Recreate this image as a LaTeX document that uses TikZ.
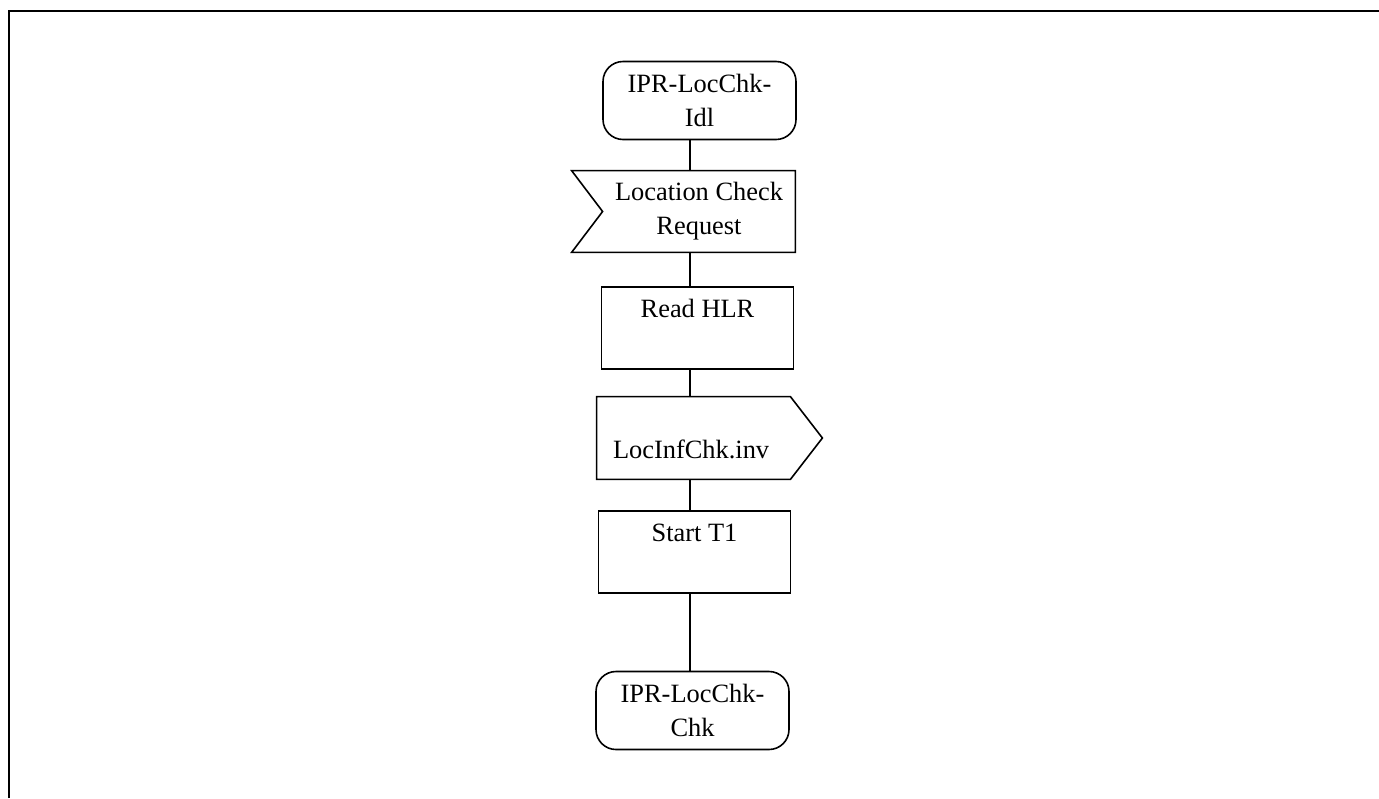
\documentclass[tikz,border=0pt]{standalone}
\usepackage{fontspec}
\setmainfont{Liberation Serif}
\usetikzlibrary{calc}

\begin{document}
\begin{tikzpicture}[x=0.5pt, y=-0.5pt,
    font=\fontsize{13.2pt}{17pt}\selectfont,
    state/.style={draw, line width=0.8pt, rounded corners=10pt, align=center,
        minimum width=96.5pt, minimum height=39pt, inner sep=0pt},
    taskbox/.style={draw, line width=0.8pt, minimum width=96pt, inner xsep=0pt,
        inner ysep=0pt, text height=15pt, text depth=26pt},
    sigbody/.style={inner sep=0pt},
    sigline/.style={line width=0.8pt, line join=miter},
    link/.style={line width=0.65pt}]
    \useasboundingbox (0,0) rectangle (1379,798);

    % Frame
    \draw[line width=1pt] (9,798) -- (9,11) -- (1379,11);

    % States
    \node[state] (idl) at (699.5,100.5) {IPR-LocChk-\\Idl};
    \node[state] (chk) at (692.5,710.5) {IPR-LocChk-\\Chk};

    % Input signal
    \node[sigbody, align=center, minimum width=96pt, minimum height=40.5pt] (req) at (699,211.5) {Location Check\\Request};
    \draw[sigline] ($(req.north west)+(-31,0)$) -- (req.north east) -- (req.south east)
        -- ($(req.south west)+(-31,0)$) -- (req.west) -- cycle;

    % Tasks
    \node[taskbox] (hlr) at (697.5,328) {Read HLR};
    \node[taskbox] (tmr) at (694.5,552) {Start T1};

    % Output signal
    \node[sigbody, inner xsep=8pt, text width=80.5pt, align=left, text height=30.5pt, text depth=10.5pt] (inv) at (693.5,438) {LocInfChk.inv};
    \draw[sigline] (inv.north west) -- (inv.north east) -- ($(inv.east)+(32,0)$)
        -- (inv.south east) -- (inv.south west) -- cycle;

    % Flow
    \coordinate (spine) at (690,0);
    \draw[link] (idl.south -| spine) -- (req.north -| spine);
    \draw[link] (req.south -| spine) -- (hlr.north -| spine);
    \draw[link] (hlr.south -| spine) -- (inv.north -| spine);
    \draw[link] (inv.south -| spine) -- (tmr.north -| spine);
    \draw[link] (tmr.south -| spine) -- (chk.north -| spine);
\end{tikzpicture}
\end{document}
